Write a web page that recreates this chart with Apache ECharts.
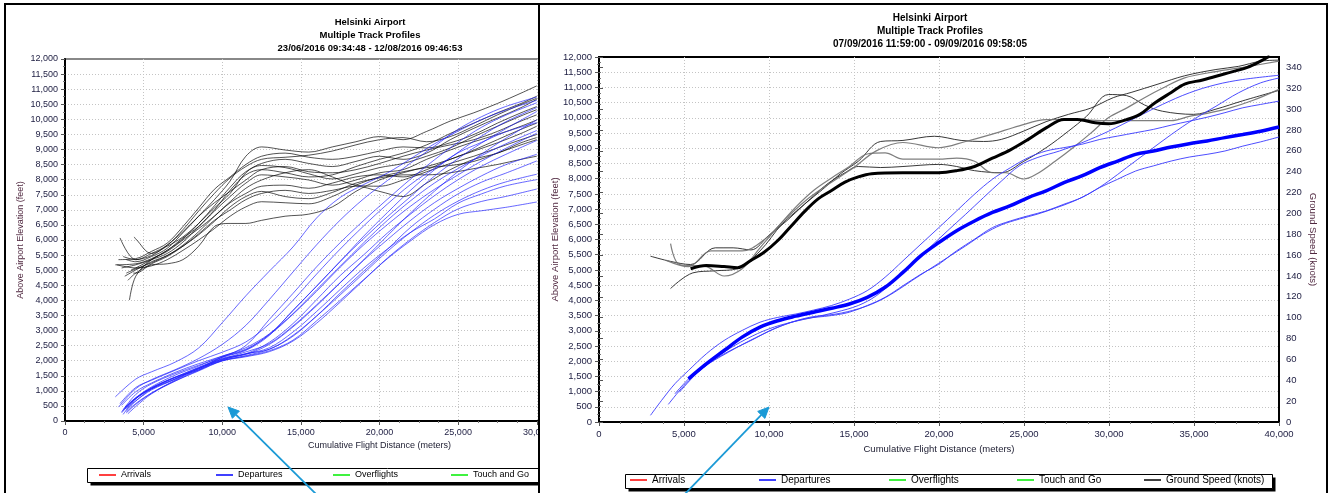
<!DOCTYPE html>
<html><head><meta charset="utf-8">
<script src="https://cdn.jsdelivr.net/npm/echarts@6/dist/echarts.min.js"></script>
<style>
html,body{margin:0;padding:0;background:#fff;width:1329px;height:493px;overflow:hidden}
#wrapL{position:absolute;left:0;top:0;width:538px;height:493px;overflow:hidden;background:#fff}
#wrapR{position:absolute;left:538px;top:0;width:791px;height:493px;overflow:hidden;background:#fff}
</style></head>
<body>
<div id="wrapL"><div id="cL" style="width:800px;height:493px"></div></div>
<div id="wrapR"><div id="cR" style="width:791px;height:493px"></div></div>
<script>
// ---------- shared ----------
const legendNames = ['Arrivals', 'Departures', 'Overflights', 'Touch and Go', 'Ground Speed (knots)'];
const legendColors = ['#ff0000', '#0000ff', '#00ee00', '#00ee00', '#000000'];
const leftTitle = 'Helsinki Airport\nMultiple Track Profiles\n23/06/2016 09:34:48 - 12/08/2016 09:46:53';
const rightTitle = 'Helsinki Airport\nMultiple Track Profiles\n07/09/2016 11:59:00 - 09/09/2016 09:58:05';

// ---------- left panel: departures (feet) ----------
const leftDepDist = [4500, 5500, 7000, 8500, 10000, 11500, 13000, 14500, 16000, 17500, 19000, 20500, 22000, 23500, 25000, 26500, 28000, 30000];
const leftDepStart = [[3200,800],[3400,460],[3600,300],[3700,220],[3800,410],[3600,520],[3900,350],[3700,380],[3900,270],[3800,460],[3900,300],[4000,240],[3500,580],[3700,350],[3900,410],[3600,270]];
const leftDepAlt = [
 [1390,1630,1950,2420,3260,4150,4970,5770,6730,7410,7840,8220,8700,9190,9610,9990,10300,10630],
 [1070,1370,1700,2070,2540,3170,4030,4940,5840,6660,7370,7970,8560,9110,9670,10090,10420,10740],
 [880,1230,1570,1850,2120,2500,3370,4230,5110,5910,6650,7350,8030,8660,9240,9740,10130,10550],
 [730,1100,1460,1760,2110,2340,2840,3670,4470,5290,6050,6770,7450,8120,8700,9220,9680,10260],
 [770,1130,1520,1820,2150,2380,2860,3540,4300,5100,5840,6510,7130,7680,8160,8620,9030,9540],
 [970,1260,1610,1900,2150,2430,2890,3560,4350,5130,5910,6650,7310,7890,8370,8800,9180,9630],
 [660,1060,1400,1760,2050,2290,2570,3150,3850,4590,5330,6010,6660,7240,7710,8130,8490,8840],
 [740,1060,1390,1740,2030,2230,2380,2840,3480,4180,4900,5620,6260,6830,7290,7650,7920,8180],
 [550,920,1350,1700,2000,2170,2380,2810,3480,4240,4970,5690,6430,7020,7530,7920,8210,8620],
 [770,1100,1440,1780,2060,2210,2540,3120,3820,4580,5350,6140,6910,7620,8270,8850,9360,9980],
 [580,930,1330,1680,2000,2150,2330,2680,3320,4000,4690,5380,5980,6510,6850,6970,7080,7260],
 [480,900,1320,1660,1990,2130,2300,2650,3240,3940,4670,5400,6030,6580,7030,7280,7440,7690],
 [1110,1350,1680,2000,2280,2620,3220,4000,4870,5700,6470,7190,7850,8380,8890,9240,9580,9890],
 [750,1080,1440,1730,2120,2360,2880,3660,4470,5290,6130,6910,7660,8330,8910,9450,9910,10390],
 [670,1030,1380,1730,2020,2220,2430,2950,3630,4360,5070,5700,6260,6700,7220,7530,7790,8000],
 [750,1080,1450,1690,2080,2230,2610,3230,4020,4820,5510,6230,6870,7470,8000,8450,8830,9300]
];

// ---------- left panel: ground speed (knots) ----------
const leftGsDist = [4500, 5500, 6500, 7500, 8500, 9500, 10500, 11500, 12500, 14000, 15500, 17000, 18500, 20000, 21500, 23000, 24500, 26000, 27500, 29000, 30000];
const leftGsStart = [[3900,156],[4340,143],[3500,177],[3200,151],[4100,117],[4400,178],[3800,140],[3600,148],[4000,136],[3300,151],[3700,159],[4200,146],[3900,143],[3400,156]];
const leftGs = [
 [154,159,167,182,198,214,232,256,265,262,260,265,270,275,272,280,290,298,307,317,324],
 [143,151,152,156,169,188,191,191,194,198,200,207,222,233,240,246,253,262,272,282,288],
 [156,160,170,183,198,211,222,233,243,246,241,240,243,249,256,262,267,272,280,290,296],
 [152,157,165,177,188,203,217,230,238,236,233,228,233,240,243,253,262,270,277,285,291],
 [140,156,164,175,186,198,211,220,227,228,225,230,236,238,236,243,253,261,269,278,285],
 [176,162,169,178,191,206,220,240,249,253,249,246,251,256,253,259,272,283,293,303,311],
 [146,154,160,170,183,198,212,225,233,240,243,236,228,227,233,241,249,256,264,272,277],
 [151,156,162,173,188,204,223,238,243,240,236,238,246,253,259,267,278,288,298,307,314],
 [143,152,159,169,181,194,204,214,220,223,220,223,227,222,217,230,243,253,259,269,274],
 [148,150,156,165,175,186,198,207,212,211,210,217,228,236,241,245,247,251,259,267,272],
 [156,162,170,185,203,220,235,246,253,255,257,261,267,272,274,270,275,285,296,306,312],
 [148,156,165,176,191,208,226,241,247,245,239,234,239,245,249,256,264,275,285,295,301],
 [147,153,160,169,180,193,207,217,222,217,215,221,230,235,238,238,240,244,248,253,256],
 [157,164,172,188,206,224,236,248,256,259,255,253,256,261,265,264,269,277,288,298,304]
];

// ---------- right panel: departures (feet) ----------
const rightDepThick = [[5260,1420],[6310,1910],[7360,2350],[8420,2790],[9470,3120],[10520,3330],[11570,3480],[12620,3610],[13680,3740],[14730,3880],[15780,4100],[16830,4430],[17880,4920],[18940,5470],[19990,5900],[21040,6290],[22090,6610],[23140,6890],[24200,7110],[25250,7380],[26300,7600],[27350,7870],[28400,8090],[29460,8360],[30510,8580],[31560,8800],[32610,8910],[33660,9040],[34720,9150],[35770,9240],[36820,9350],[37870,9450],[38920,9560],[40000,9700]];
const rightDepA = [[3030,220],[3680,710],[4470,1260],[5260,1690],[6310,2240],[7360,2680],[8420,3010],[9470,3280],[10520,3440],[11570,3550],[12620,3680],[13680,3830],[14730,4040],[15780,4320],[16830,4760],[17880,5300],[18940,5850],[19990,6390],[21040,6940],[22090,7490],[23140,7980],[24200,8360],[25250,8690],[26300,8910],[27350,9020],[28400,9130],[29460,9290],[30510,9400],[31560,9510],[32610,9620],[33660,9760],[34720,9890],[35770,10020],[36820,10170],[37870,10330],[38920,10440],[40000,10550]];
const rightDepB = [[4080,580],[5000,1200],[6050,1750],[7360,2300],[8680,2730],[9990,3060],[11310,3280],[12620,3440],[13940,3610],[15250,3830],[16310,4150],[17360,4650],[18410,5190],[19460,5740],[20510,6290],[21570,6830],[22620,7380],[23670,7920],[24720,8420],[25770,8690],[27090,8910],[28400,9180],[29980,9560],[31560,10000],[33140,10440],[34720,10820],[36290,11090],[37870,11260],[40000,11400]];
const rightDepC = [[4470,930],[5790,1690],[7360,2240],[8940,2680],[10520,3120],[12100,3390],[13680,3500],[14730,3610],[15780,3830],[16830,4100],[17880,4480],[18940,4860],[19990,5190],[21040,5630],[22090,6010],[23140,6390],[24200,6610],[25250,6780],[26300,6940],[27350,7160],[28400,7380],[29460,7710],[30510,7980],[31560,8250],[32610,8420],[33660,8580],[34720,8710],[35770,8800],[36820,8910],[37870,9070],[38920,9210],[40000,9370]];
const rightDepD = [[4730,980],[6050,1750],[7630,2300],[9210,2770],[10780,3170],[12360,3440],[13940,3550],[15250,3720],[16310,3940],[17360,4260],[18410,4650],[19460,5030],[20510,5410],[21570,5790],[22620,6180],[23670,6480],[24720,6670],[25770,6830],[26830,7030],[27880,7250],[28930,7540],[29980,7920],[31030,8360],[32350,8910],[33660,9450],[34980,9950],[36290,10380],[37610,10820],[38920,11150],[40000,11310]];

// ---------- right panel: ground speed (knots) ----------
const rightGsThick = [[5390,147],[6310,150],[7360,149],[8150,148],[8940,155],[9730,163],[10520,174],[11310,188],[12100,202],[12890,214],[13680,222],[14470,230],[15250,235],[16040,238],[17880,239],[19990,239],[21040,241],[22090,245],[23140,253],[24200,261],[25250,271],[26300,282],[27350,290],[28140,290],[29190,287],[29980,286],[31030,290],[31820,295],[32610,305],[33660,316],[34450,324],[35510,328],[36820,334],[38140,340],[38920,346],[39450,351]];
const rightGsA = [[3030,159],[4210,154],[5390,151],[6840,167],[7890,167],[8940,165],[9990,179],[11050,193],[12100,209],[13150,223],[14200,238],[15250,250],[16570,269],[17880,270],[19730,274],[21300,270],[22620,269],[23670,271],[24990,279],[26300,288],[27620,295],[28930,301],[30250,311],[31300,316],[32880,324],[34450,332],[36290,338],[37610,341],[38920,346],[40000,347]];
const rightGsB = [[4210,171],[4730,151],[6310,149],[7360,140],[8420,147],[9470,167],[10520,187],[11570,206],[12620,222],[13680,234],[14730,245],[15780,257],[16830,258],[17880,252],[19990,252],[21040,253],[22090,250],[23140,239],[23930,239],[24990,233],[25770,238],[26830,250],[27880,263],[28930,277],[29980,292],[31030,301],[32090,311],[33140,320],[34450,330],[36290,336],[37870,340],[40000,346]];
const rightGsC = [[4210,128],[5520,143],[6840,145],[8150,147],[9470,164],[10780,190],[12100,209],[13410,228],[14470,239],[15250,245],[16570,244],[17880,245],[19990,247],[21040,245],[22090,241],[23670,239],[24990,250],[26300,263],[27620,279],[28670,293],[29980,314],[31030,313],[32090,304],[33140,298],[34980,295],[36290,300],[37870,308],[40000,318]];
const rightGsD = [[3950,155],[5260,149],[6580,164],[8420,164],[9730,175],[11050,196],[12360,215],[13680,230],[14990,244],[16310,260],[17880,268],[19990,263],[21570,269],[23140,276],[24720,284],[26300,290],[27880,290],[29980,289],[31820,289],[33660,289],[34720,293],[35770,296],[37080,301],[38400,308],[40000,319]];

// ---------- helpers ----------
const FONT = "'Liberation Sans', Arial, sans-serif";
const LABEL = '#1c1c40';
const NAMEC = '#502840';
const fmt = v => Number(v).toLocaleString('en-US');

function line(name, data, color, width, yIdx, opacity, z) {
  return { type: 'line', name, data, yAxisIndex: yIdx, symbol: 'none', smooth: 0.35,
    color, lineStyle: { color, width, opacity }, itemStyle: { color },
    silent: true, animation: false, z: z || 2, emphasis: { disabled: true } };
}
function placeholders() {
  return legendNames.map((n, i) => ({ type: 'line', name: n, data: [], symbol: 'none', color: legendColors[i],
    lineStyle: { color: legendColors[i] }, itemStyle: { color: legendColors[i] } }));
}
function xAxisCfg(fs, gap) {
  return { type: 'value', min: 0, max: 40000, interval: 5000,
    name: 'Cumulative Flight Distance (meters)', nameLocation: 'middle', nameGap: gap, nameMoveOverlap: false,
    nameTextStyle: { fontFamily: FONT, fontSize: fs, color: '#1c1c30' },
    axisLine: { show: true, onZero: false, lineStyle: { color: '#000', width: 2 } },
    axisTick: { show: true, length: 4, lineStyle: { color: '#555' } },
    minorTick: { show: true, splitNumber: 4, length: 2, lineStyle: { color: '#777' } },
    axisLabel: { fontFamily: FONT, fontSize: fs, color: LABEL, margin: 7, formatter: fmt },
    splitLine: { show: true, showMinLine: false, showMaxLine: false, lineStyle: { color: '#c4c4c4', type: [1, 2], width: 1 } } };
}
function yFeetCfg(fs, gap) {
  return { type: 'value', min: 0, max: 12000, interval: 500, position: 'left',
    name: 'Above Airport Elevation (feet)', nameLocation: 'middle', nameGap: gap, nameMoveOverlap: false,
    nameTextStyle: { fontFamily: FONT, fontSize: fs, color: NAMEC },
    axisLine: { show: true, onZero: false, lineStyle: { color: '#000', width: 2 } },
    axisTick: { show: true, length: 4, lineStyle: { color: '#555' } },
    minorTick: { show: true, splitNumber: 2, length: 2, lineStyle: { color: '#777' } },
    axisLabel: { fontFamily: FONT, fontSize: fs, color: LABEL, margin: 7, formatter: fmt },
    splitLine: { show: true, showMinLine: false, showMaxLine: false, lineStyle: { color: '#c4c4c4', type: [1, 2], width: 1 } } };
}
// one legend component per item, placed in fixed-width cells
function legends(xs, top, fs) {
  return legendNames.map((n, i) => ({ data: [n], left: xs[i], top, orient: 'horizontal', icon: 'rect',
    itemWidth: 17, itemHeight: 1.5, itemGap: 0, padding: 0, selectedMode: false, z: 20,
    textStyle: { fontFamily: FONT, fontSize: fs, color: '#000' } }));
}
function legendBox(x, y, w, h) {
  return [
    { type: 'rect', z: 1, shape: { x: x + 3, y: y + 3, width: w, height: h }, style: { fill: '#000' } },
    { type: 'rect', z: 2, shape: { x: x, y: y, width: w, height: h }, style: { fill: '#fff', stroke: '#000', lineWidth: 1 } }
  ];
}
function arrow(tail, tip, base, w1, w2) {
  return [
    { type: 'polyline', z: 200, shape: { points: [tail, base] }, style: { stroke: '#1b9ad6', lineWidth: 1.8, fill: null } },
    { type: 'polygon', z: 200, shape: { points: [tip, w1, w2] }, style: { fill: '#1b9ad6', stroke: '#1b9ad6', lineWidth: 1 } }
  ];
}

// ---------- left chart ----------
const leftSeries = placeholders();
leftGs.forEach((vals, i) => {
  const d = [leftGsStart[i]].concat(leftGsDist.map((x, j) => [x, vals[j]]));
  leftSeries.push(line('Ground Speed (knots)', d, '#000', 0.8, 1, 0.85, 2));
});
leftDepAlt.forEach((vals, i) => {
  const d = [leftDepStart[i]].concat(leftDepDist.map((x, j) => [x, vals[j]]));
  leftSeries.push(line('Departures', d, '#1e1eff', 0.8, 0, 0.85, 3));
});

const cL = echarts.init(document.getElementById('cL'), null, { renderer: 'canvas' });
cL.setOption({
  animation: false,
  backgroundColor: '#fff',
  title: { text: leftTitle, left: 370, top: 16, textAlign: 'center', padding: 0,
    textStyle: { fontFamily: FONT, fontSize: 9.5, fontWeight: 'bold', lineHeight: 13, color: '#000' } },
  grid: { left: 65, top: 59, width: 629, height: 362, show: true, borderColor: '#888', borderWidth: 2, backgroundColor: '#fff' },
  xAxis: xAxisCfg(9, 20),
  yAxis: [yFeetCfg(9, 40), { type: 'value', min: 0, max: 350, show: false, splitLine: { show: false } }],
  legend: legends([99, 216, 333, 451, 568], 470.5, 9),
  series: leftSeries,
  graphic: [
    { type: 'rect', z: 150, shape: { x: 5, y: 4, width: 600, height: 530 }, style: { fill: null, stroke: '#000', lineWidth: 2 } }
  ].concat(legendBox(87.5, 468.5, 600, 14))
   .concat(arrow([318, 496], [228, 407], [235.9, 414.7], [239.4, 411.1], [232.4, 418.3]))
});

// ---------- right chart ----------
const rightSeries = placeholders();
[rightGsA, rightGsC].forEach(d => rightSeries.push(line('Ground Speed (knots)', d, '#222', 1, 1, 0.9, 2)));
[rightGsB, rightGsD].forEach(d => rightSeries.push(line('Ground Speed (knots)', d, '#707070', 1.2, 1, 0.9, 2)));
[rightDepA, rightDepB, rightDepC, rightDepD].forEach(d => rightSeries.push(line('Departures', d, '#3a3aff', 1, 0, 0.9, 3)));
rightSeries.push(line('Ground Speed (knots)', rightGsThick, '#000', 3, 1, 1, 4));
rightSeries.push(line('Departures', rightDepThick, '#0000ff', 3.5, 0, 1, 4));

const cR = echarts.init(document.getElementById('cR'), null, { renderer: 'canvas' });
cR.setOption({
  animation: false,
  backgroundColor: '#fff',
  title: { text: rightTitle, left: 392, top: 11.5, textAlign: 'center', padding: 0,
    textStyle: { fontFamily: FONT, fontSize: 10, fontWeight: 'bold', lineHeight: 13, color: '#000' } },
  grid: { left: 61, top: 57, width: 680, height: 365, show: true, borderColor: '#000', borderWidth: 2, backgroundColor: '#fff' },
  xAxis: xAxisCfg(9.5, 22),
  yAxis: [
    yFeetCfg(9.5, 39),
    { type: 'value', min: 0, max: 350, interval: 20, position: 'right',
      name: 'Ground Speed (knots)', nameLocation: 'middle', nameGap: 29, nameRotate: -90, nameMoveOverlap: false,
      nameTextStyle: { fontFamily: FONT, fontSize: 9.5, color: NAMEC },
      axisLine: { show: true, lineStyle: { color: '#000', width: 2 } },
      axisTick: { show: true, length: 4, lineStyle: { color: '#555' } },
      minorTick: { show: true, splitNumber: 4, length: 2, lineStyle: { color: '#777' } },
      axisLabel: { fontFamily: FONT, fontSize: 9.5, color: LABEL, margin: 7, showMaxLabel: false },
      splitLine: { show: false } }
  ],
  legend: legends([92, 221, 351, 479, 606], 475, 10),
  series: rightSeries,
  graphic: [
    { type: 'rect', z: 150, shape: { x: 1, y: 4, width: 788, height: 530 }, style: { fill: null, stroke: '#000', lineWidth: 2 } }
  ].concat(legendBox(87.5, 474.5, 647, 14))
   .concat(arrow([145, 496], [231, 407], [223.3, 414.9], [226.9, 418.4], [219.7, 411.4]))
});
</script>
</body></html>
